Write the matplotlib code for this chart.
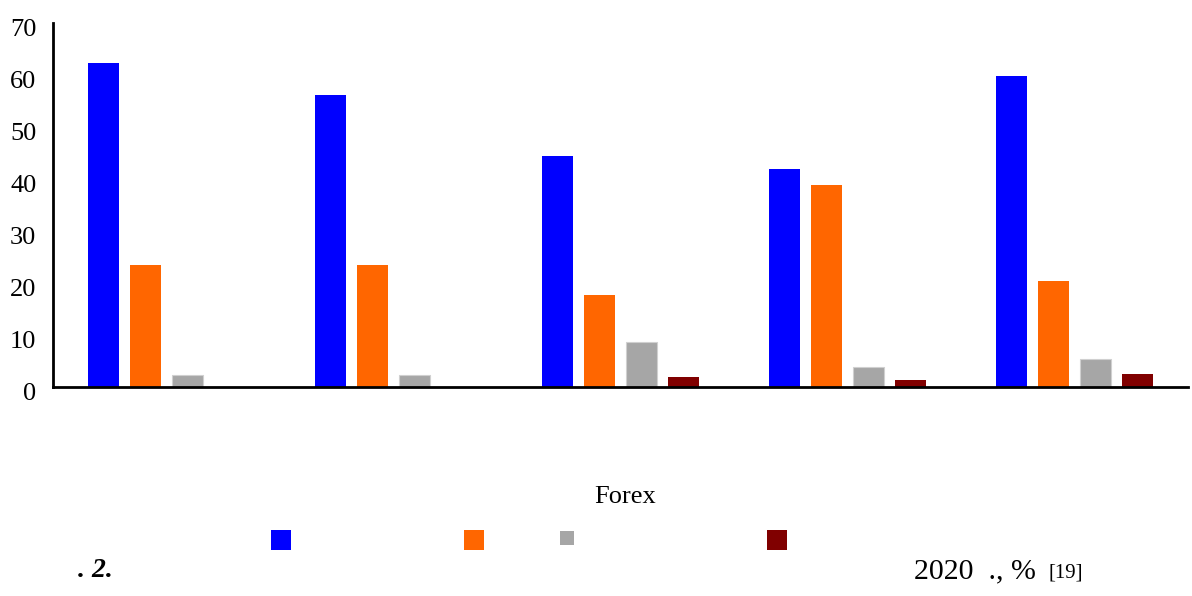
import numpy as np
import matplotlib.pyplot as plt
from matplotlib.lines import Line2D
from matplotlib.transforms import ScaledTranslation

plt.rcParams['font.family'] = ['Liberation Serif', 'DejaVu Serif']

# data (category names are lost in the source, only "Forex" survives)
categories = ['', '', 'Forex', '', '']
series1 = [62.3, 56.2, 44.4, 41.9, 59.8]
series2 = [23.5, 23.5, 17.7, 38.8, 20.4]
series3 = [2.4, 2.4, 8.6, 3.9, 5.4]
series4 = [0, 0, 1.9, 1.35, 2.5]
colors = ['#0000FF', '#FF6600', '#A6A6A6', '#800000']

fig = plt.figure(figsize=(11.92, 5.96), dpi=100)
ax = fig.add_axes([0.0445, 0.3507, 0.9521, 0.6107])

x = np.arange(len(categories))
width = 0.139
pitch = 0.185
all_series = [series1, series2, series3, series4]
for i, vals in enumerate(all_series):
    offset = (i - 1.5) * pitch
    if i == 2:
        ax.bar(x + offset, vals, width, color=colors[i], edgecolor='#D0D0D0', linewidth=0.8)
    else:
        ax.bar(x + offset, vals, width, color=colors[i], linewidth=0)

ax.set_xlim(-0.5, 4.5)
ax.set_ylim(0, 70)
ax.set_yticks(range(0, 71, 10))
ax.tick_params(axis='y', length=0, pad=12, labelsize=19)
ax.tick_params(axis='x', length=0)
ax.set_xticks([])
for s in ['top', 'right']:
    ax.spines[s].set_visible(False)
ax.spines['left'].set_linewidth(2)
ax.spines['bottom'].set_linewidth(2)
# tick labels sit a little low in the original
shift = ScaledTranslation(0, -3 / 72, fig.dpi_scale_trans)
for lbl in ax.get_yticklabels():
    lbl.set_transform(lbl.get_transform() + shift)

# category label that survived
ax.text(2.02, -21.1, categories[2], ha='center', va='center', fontsize=19)

# legend keys (labels missing in the source)
key_x = [0.2357, 0.3977, 0.4757, 0.6519]
key_y = [0.092, 0.092, 0.0945, 0.092]
key_size = [13.7, 13.7, 10.2, 13.7]
for i in range(4):
    h = Line2D([], [], marker='s', linestyle='none', color=colors[i],
               markersize=key_size[i], markeredgewidth=0)
    leg = fig.legend(handles=[h], labels=[''], loc='center', frameon=False,
                     bbox_to_anchor=(key_x[i], key_y[i]),
                     borderpad=0, handletextpad=0, handlelength=1)

fig.text(0.0655, 0.042, '. 2.', fontsize=20, fontweight='bold', fontstyle='italic', va='center')
fig.text(0.767, 0.042, '2020  ., %', fontsize=21.5, va='center')
fig.text(0.88, 0.038, '[19]', fontsize=15, va='center')

plt.savefig('out.png', dpi=100)
